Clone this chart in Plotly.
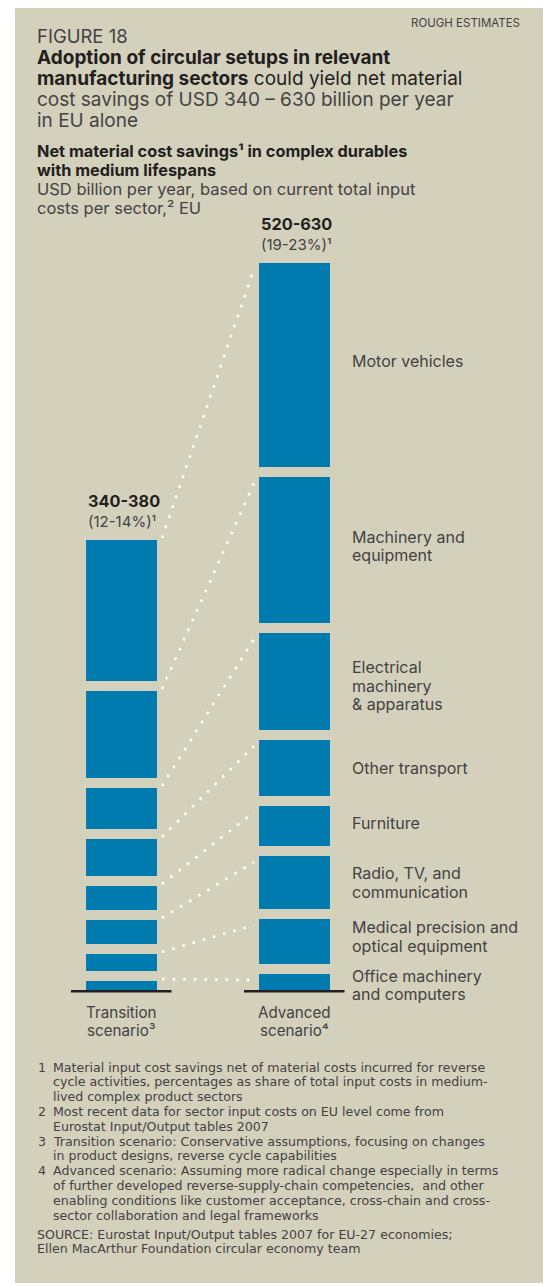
import plotly.graph_objects as go

# ---------------- data (top-down order) ----------------
categories = ["Motor vehicles", "Machinery and equipment", "Electrical machinery & apparatus",
              "Other transport", "Furniture", "Radio, TV, and communication",
              "Medical precision and optical equipment", "Office machinery and computers"]
label_lines = [["Motor vehicles"], ["Machinery and", "equipment"],
               ["Electrical", "machinery", "& apparatus"], ["Other transport"], ["Furniture"],
               ["Radio, TV, and", "communication"], ["Medical precision and", "optical equipment"],
               ["Office machinery", "and computers"]]
# USD billion per year
transition = [141, 87, 41, 37, 24, 24, 17, 9]
advanced = [204, 146, 97, 56, 40, 53, 45, 16]
scenarios = ["Transition", "Advanced"]
scenario_sup = ["³", "⁴"]
totals = ["340-380", "520-630"]
shares = ["(12-14%)¹", "(19-23%)¹"]

footnotes = [
    ("1", ["Material input cost savings net of material costs incurred for reverse",
           "cycle activities, percentages as share of total input costs in medium-",
           "lived complex product sectors"]),
    ("2", ["Most recent data for sector input costs on EU level come from",
           "Eurostat Input/Output tables 2007"]),
    ("3", ["Transition scenario: Conservative assumptions, focusing on changes",
           "in product designs, reverse cycle capabilities"]),
    ("4", ["Advanced scenario: Assuming more radical change especially in terms",
           "of further developed reverse-supply-chain competencies,  and other",
           "enabling conditions like customer acceptance, cross-chain and cross-",
           "sector collaboration and legal frameworks"]),
]
source_lines = ["SOURCE: Eurostat Input/Output tables 2007 for EU-27 economies;",
                "Ellen MacArthur Foundation circular economy team"]

# ---------------- styling ----------------
OFF = 8                      # page body margin
W, H = 551 - OFF, 1286 - OFF  # figure size
BG = "#d3d0bc"
BLUE = "#007baf"
DARK = "#231f20"
GREY = "#434343"
FONT = "Inter"
NOTE_FONT = "DejaVu Sans"
GAP = 10  # visual gap between stacked segments (data units = px)
XC0 = 121.5 - OFF   # transition bar centre (figure px)
XU = 173.0          # px per x unit
Y0 = 990 - OFF      # baseline (figure px)
label_nudge = [-4, -4, 4, 0, -3, 0, -5, 3]  # px fine-tuning of label placement


def stack(vals):
    bottom_up = vals[::-1]
    bases, b = [], 0
    for v in bottom_up:
        bases.append(b)
        b += v + GAP
    return bases[::-1]


t_base = stack(transition)
a_base = stack(advanced)


def px(x):
    return (x - OFF) / W


def py(y):
    return 1 - (y - OFF) / H


fig = go.Figure()

# panel
fig.add_shape(type="rect", xref="paper", yref="paper", x0=px(15), x1=px(546),
              y0=py(1283), y1=py(5), fillcolor=BG, line_width=0, layer="below")

# bars
for xi, vals, bases in [(0, transition, t_base), (1, advanced, a_base)]:
    fig.add_trace(go.Bar(x=[xi] * len(vals), y=vals, base=bases, width=0.41,
                         marker=dict(color=BLUE, line_width=0), hoverinfo="skip",
                         showlegend=False))

# dotted connectors
for i in range(len(categories)):
    fig.add_trace(go.Scatter(x=[0.234, 0.766],
                             y=[t_base[i] + transition[i] + 2, a_base[i] + advanced[i] - 6],
                             mode="lines", line=dict(color="white", width=2.6, dash="2.6px,8px"),
                             hoverinfo="skip", showlegend=False))

# baselines
for xc in [0, 1]:
    fig.add_shape(type="line", xref="x", yref="y", x0=xc - 0.292, x1=xc + 0.289,
                  y0=-1.2, y1=-1.2, line=dict(color=DARK, width=2.6))


def txt(s, x, y, size, color=GREY, xref="paper", yref="paper", xanchor="left", bold=False,
        family=FONT):
    if bold:
        s = "<b>" + s + "</b>"
    fig.add_annotation(text=s, x=x, y=y, xref=xref, yref=yref, xanchor=xanchor,
                       yanchor="middle", showarrow=False,
                       font=dict(family=family, size=size, color=color))


# header
txt("ROUGH ESTIMATES", px(522), py(23), 11.5, GREY, xanchor="right")
txt("FIGURE 18", px(35), py(36), 18.5, GREY)
title = ["<b>Adoption of circular setups in relevant</b>",
         "<b>manufacturing sectors</b> could yield net material",
         "cost savings of USD 340 – 630 billion per year",
         "in EU alone"]
for k, s in enumerate(title):
    txt(s, px(35), py(57 + k * 21), 19, DARK if k < 2 else GREY)
sub = ["<b>Net material cost savings¹ in complex durables</b>",
       "<b>with medium lifespans</b>",
       "USD billion per year, based on current total input",
       "costs per sector,² EU"]
for k, s in enumerate(sub):
    txt(s, px(35), py(151 + k * 19), 16.3 if k < 2 else 16.5, DARK if k < 2 else GREY)

# totals above bars
for xi, vals, bases in [(0, transition, t_base), (1, advanced, a_base)]:
    top = bases[0] + vals[0]
    txt(totals[xi], xi - 0.205, top + 39, 16.3, DARK, xref="x", yref="y", bold=True)
    txt(shares[xi], xi - 0.205, top + 19, 15, GREY, xref="x", yref="y")

# scenario labels
for xi in [0, 1]:
    txt(scenarios[xi], xi, -22, 15.2, GREY, xref="x", yref="y", xanchor="center")
    txt("scenario" + scenario_sup[xi], xi, -40.6, 15.2, GREY, xref="x", yref="y", xanchor="center")

# category labels, centred on advanced segments
LS = 18.5
for i, lines in enumerate(label_lines):
    c = a_base[i] + advanced[i] / 2 - label_nudge[i]
    n = len(lines)
    for k, s in enumerate(lines):
        y = c + (n - 1) * LS / 2 - k * LS
        txt(s, px(350), y, 16, GREY, yref="y")

# footnotes
y0, FS, NS = 1067, 14.8, 12.6
row = 0
for num, lines in footnotes:
    txt(num, px(36), py(y0 + row * FS), NS, GREY, family=NOTE_FONT)
    for s in lines:
        txt(s, px(51), py(y0 + row * FS), NS, GREY, family=NOTE_FONT)
        row += 1
for k, s in enumerate(source_lines):
    txt(s, px(35), py(1234 + k * FS), NS, GREY, family=NOTE_FONT)

fig.update_layout(
    width=W, height=H, margin=dict(l=0, r=0, t=0, b=0),
    paper_bgcolor="white", plot_bgcolor="rgba(0,0,0,0)",
    barmode="overlay", showlegend=False,
    xaxis=dict(range=[-XC0 / XU, (W - XC0) / XU], domain=[0, 1], visible=False, fixedrange=True),
    yaxis=dict(range=[-(H - Y0), Y0], domain=[0, 1], visible=False, fixedrange=True),
)
fig.write_html("out.html")
